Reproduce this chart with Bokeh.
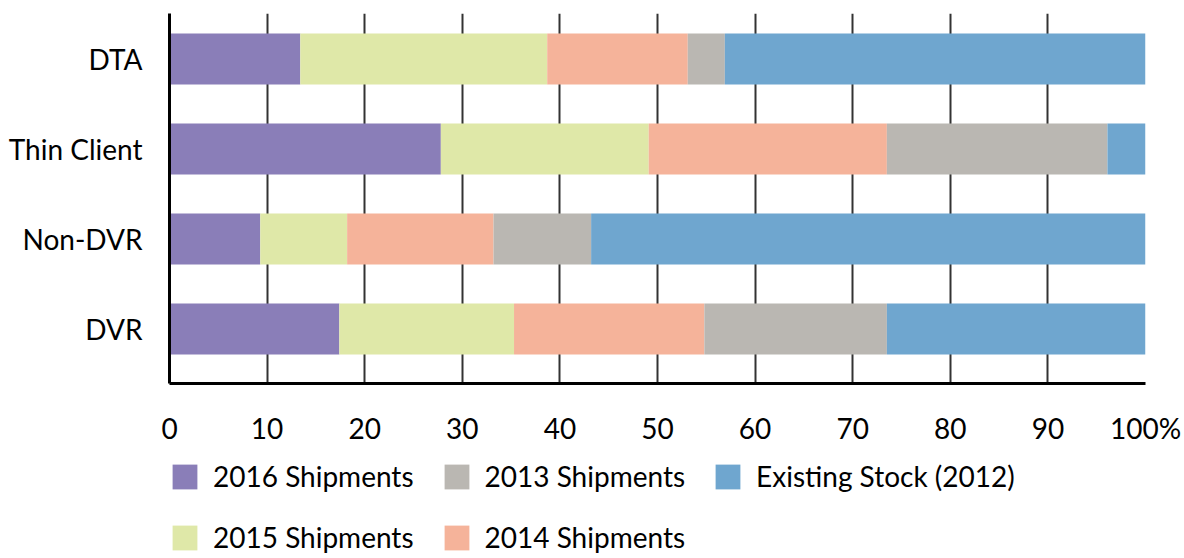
from bokeh.plotting import figure
from bokeh.layouts import column
from bokeh.models import ColumnDataSource, Range1d, FixedTicker, Legend, LegendItem
from bokeh.embed import file_html
from bokeh.resources import INLINE

categories = ["DTA", "Thin Client", "Non-DVR", "DVR"]
series = ["2016 Shipments", "2015 Shipments", "2014 Shipments", "2013 Shipments", "Existing Stock (2012)"]
s2016 = [13.4, 27.8, 9.3, 17.4]
s2015 = [25.3, 21.3, 8.9, 17.9]
s2014 = [14.4, 24.4, 15.0, 19.5]
s2013 = [3.8, 22.6, 10.0, 18.7]
existing = [43.1, 3.9, 56.8, 26.5]
x_ticks = [0, 10, 20, 30, 40, 50, 60, 70, 80, 90, 100]
x_tick_labels = ["0", "10", "20", "30", "40", "50", "60", "70", "80", "90", "100%"]

colors = ["#8a7eb8", "#dfe8a8", "#f5b39a", "#bab7b2", "#6fa6cf"]
keys = ["s2016", "s2015", "s2014", "s2013", "existing"]

y_pos = [len(categories) - 1 - i for i in range(len(categories))]
src = ColumnDataSource(dict(y=y_pos, s2016=s2016, s2015=s2015, s2014=s2014,
                            s2013=s2013, existing=existing))

FONT = "Lato"

p = figure(width=1184, height=450, output_backend="svg", toolbar_location=None,
           x_range=Range1d(0, 100), y_range=Range1d(-0.6056, 3.5056),
           min_border_left=169, min_border_right=39, min_border_top=13,
           min_border_bottom=67)
p.outline_line_color = None

rs = p.hbar_stack(keys, y="y", height=0.567, fill_color=colors, line_color=None, source=src)

# x axis
p.xaxis.ticker = FixedTicker(ticks=x_ticks)
p.xaxis.major_label_overrides = {t: l for t, l in zip(x_ticks, x_tick_labels)}
p.xaxis.major_label_text_font = FONT
p.xaxis.major_label_text_font_size = "28px"
p.xaxis.major_label_text_color = "black"
p.xaxis.major_label_standoff = 21
p.xaxis.major_tick_line_color = None
p.xaxis.minor_tick_line_color = None
p.xaxis.axis_line_width = 3
p.xaxis.axis_line_color = "black"

# y axis
p.yaxis.ticker = FixedTicker(ticks=y_pos)
p.yaxis.major_label_overrides = {y: c for y, c in zip(y_pos, categories)}
p.yaxis.major_label_text_font = FONT
p.yaxis.major_label_text_font_size = "28px"
p.yaxis.major_label_text_color = "black"
p.yaxis.major_label_standoff = 21
p.yaxis.major_tick_line_color = None
p.yaxis.minor_tick_line_color = None
p.yaxis.axis_line_width = 3
p.yaxis.axis_line_color = "black"

p.xgrid.ticker = FixedTicker(ticks=x_ticks[1:])
p.xgrid.grid_line_color = "#333333"
p.xgrid.grid_line_width = 2
p.xgrid.grid_line_alpha = 1
p.ygrid.grid_line_color = None

# legend panel below
p2 = figure(width=1184, height=108, output_backend="svg", toolbar_location=None,
            x_range=Range1d(0, 100), y_range=Range1d(0, 1),
            x_axis_type=None, y_axis_type=None,
            min_border_left=169, min_border_right=39, min_border_top=0, min_border_bottom=0)
p2.outline_line_color = None
p2.xgrid.visible = False
p2.ygrid.visible = False
# off-screen bars used only to give the legend its swatches
hidden = ColumnDataSource(dict(y=[-100], right=[0]))
leg_rs = [p2.hbar(y="y", right="right", height=0.1, fill_color=c, line_color=None,
                  source=hidden) for c in colors]

order = [0, 1, 3, 2, 4]
items = [LegendItem(label=series[i], renderers=[leg_rs[i]]) for i in order]
legend = Legend(items=items, location=(0, 4), orientation="vertical", nrows=2,
                glyph_width=31, glyph_height=31, label_standoff=13, spacing=27,
                padding=0, margin=0, border_line_color=None, background_fill_alpha=0,
                label_text_font=FONT, label_text_font_size="28px", label_height=31,
                label_text_color="black")
p2.add_layout(legend)

layout = column(p, p2, spacing=0)
open("out.html", "w").write(file_html(layout, INLINE))
